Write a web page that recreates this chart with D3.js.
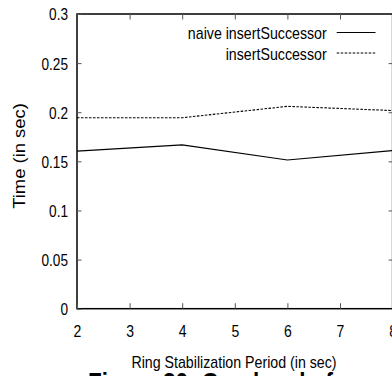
<!DOCTYPE html>
<html>
<head>
<meta charset="utf-8">
<script src="https://cdn.jsdelivr.net/npm/d3@7"></script>
<style>
  html, body { margin: 0; padding: 0; background: #fff; overflow: hidden; }
  svg { display: block; font-family: "Liberation Sans", Arial, Helvetica, sans-serif; }
</style>
</head>
<body>
<div id="chart"></div>
<script>
// Ring stabilization period vs. time of insertSuccessor (gnuplot-style figure)

const periods = [2, 4, 6, 8];
const naiveTimes = [0.1605, 0.1667, 0.1514, 0.161];
const insertTimes = [0.1944, 0.1944, 0.206, 0.2017];
const xTicks = [2, 3, 4, 5, 6, 7, 8];
const yTicks = [0, 0.05, 0.1, 0.15, 0.2, 0.25, 0.3];
const seriesNames = ['naive insertSuccessor', 'insertSuccessor'];

const W = 392, H = 376;
const plotLeft = 77, plotRight = 392.6, plotTop = 14, plotBottom = 308.7;
const STRETCH = 1.15; // the original figure is a bit taller than wide

const svg = d3.select('#chart').append('svg')
    .attr('width', W)
    .attr('height', H);

const x = d3.scaleLinear().domain([2, 8]).range([plotLeft, plotRight]);
const y = d3.scaleLinear().domain([0, 0.3]).range([plotBottom, plotTop]);

// Frame
svg.append('rect')
    .attr('x', plotLeft).attr('y', plotTop)
    .attr('width', plotRight - plotLeft).attr('height', plotBottom - plotTop)
    .attr('fill', 'none')
    .attr('stroke', '#000')
    .attr('stroke-width', 1.5);

// Axes (ticks point inward, like gnuplot)
const fmtY = d => d === 0 ? '0' : String(d);

const yAxis = svg.append('g')
    .attr('transform', `translate(${plotLeft},0)`)
    .call(d3.axisLeft(y).tickValues(yTicks).tickSize(-4.5).tickPadding(9).tickFormat(fmtY));

const xAxis = svg.append('g')
    .attr('transform', `translate(0,${plotBottom})`)
    .call(d3.axisBottom(x).tickValues(xTicks).tickSize(-5.5).tickFormat(d3.format('d')));

const xTop = svg.append('g')
    .attr('transform', `translate(0,${plotTop})`)
    .call(d3.axisTop(x).tickValues(xTicks.slice(1, -1)).tickSize(-5.5).tickFormat(''));

const yRight = svg.append('g')
    .attr('transform', `translate(${plotRight},0)`)
    .call(d3.axisRight(y).tickValues(yTicks.slice(1, -1)).tickSize(-4).tickFormat(''));

[yAxis, xAxis, xTop, yRight].forEach(g => {
    g.select('.domain').remove();
    g.selectAll('.tick line').attr('stroke', '#555').attr('stroke-width', 1);
});

yAxis.selectAll('text')
    .attr('fill', '#000')
    .attr('font-size', '14.2px')
    .attr('x', null).attr('dy', null)
    .attr('transform', `translate(-9,5.9) scale(0.96,${STRETCH})`);

xAxis.selectAll('.tick text')
    .attr('fill', '#000')
    .attr('font-size', '14.6px')
    .attr('y', null).attr('dy', null)
    .attr('transform', `translate(0,${336.6 - plotBottom}) scale(0.96,${STRETCH})`);

// Lines
const line = d3.line()
    .x((d, i) => x(periods[i]))
    .y(d => y(d));

svg.append('path')
    .datum(naiveTimes)
    .attr('d', line)
    .attr('fill', 'none')
    .attr('stroke', '#000')
    .attr('stroke-width', 1.2);

svg.append('path')
    .datum(insertTimes)
    .attr('d', line)
    .attr('fill', 'none')
    .attr('stroke', '#000')
    .attr('stroke-width', 1.1)
    .attr('stroke-dasharray', '2.5,1.5');

// Legend
const legend = svg.append('g');
seriesNames.forEach((name, i) => {
    const cy = 32.5 + i * 20.5;
    legend.append('text')
        .attr('text-anchor', 'end')
        .attr('font-size', '14.2px')
        .attr('transform', `translate(326.7,${cy + 6.8}) scale(1,${STRETCH})`)
        .text(name);
    legend.append('line')
        .attr('x1', 336.7).attr('x2', 375.5)
        .attr('y1', cy).attr('y2', cy)
        .attr('stroke', '#000')
        .attr('stroke-width', i === 0 ? 1.2 : 1.1)
        .attr('stroke-dasharray', i === 0 ? null : '2.5,1.5');
});

// Axis titles
svg.append('text')
    .attr('text-anchor', 'middle')
    .attr('font-size', '14.2px')
    .attr('transform', `translate(234,367.5) scale(1,${STRETCH})`)
    .text('Ring Stabilization Period (in sec)');

svg.append('text')
    .attr('text-anchor', 'middle')
    .attr('font-size', '16px')
    .attr('transform', `translate(25,156) rotate(-90) scale(${STRETCH},1)`)
    .text('Time (in sec)');

// Caption, cut off by the bottom edge
svg.append('text')
    .attr('font-size', '22.5px')
    .attr('font-weight', 'bold')
    .attr('transform', `translate(88,390.5) scale(1,${STRETCH})`)
    .text('Figure 20: Overhead of');
</script>
</body>
</html>
